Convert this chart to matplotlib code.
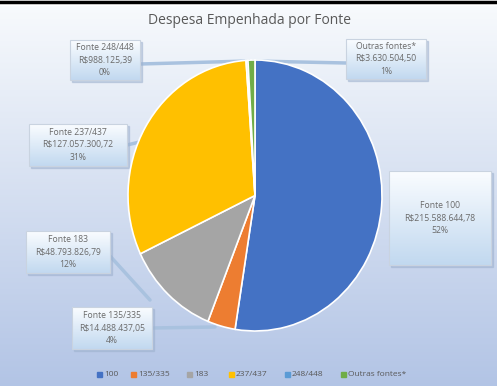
import numpy as np
import matplotlib.pyplot as plt
from matplotlib.patches import Rectangle

# dados
fontes = ['100', '135/335', '183', '237/437', '248/448', 'Outras fontes*']
rotulos = ['Fonte 100', 'Fonte 135/335', 'Fonte 183', 'Fonte 237/437',
           'Fonte 248/448', 'Outras fontes*']
valores = [215588644.78, 14488437.05, 48793826.79, 127057300.72,
           988125.39, 3630504.50]
percentuais = ['52%', '4%', '12%', '31%', '0%', '1%']
cores = ['#4472C4', '#ED7D31', '#A5A5A5', '#FFC000', '#5B9BD5', '#70AD47']


def brl(v):
    s = f'{v:,.2f}'
    return 'R$' + s.replace(',', '#').replace('.', ',').replace('#', '.')


W, H = 497, 386
fig = plt.figure(figsize=(W / 100, H / 100), dpi=100)
plt.rcParams['font.family'] = ['Open Sans', 'DejaVu Sans']

# fundo em pixels
bg = fig.add_axes([0, 0, 1, 1])
bg.set_xlim(0, W)
bg.set_ylim(H, 0)
bg.axis('off')
grad = np.linspace(0, 1, 256)[:, None]
c0 = np.array([0.97, 0.98, 0.99])
c1 = np.array([0.70, 0.77, 0.90])
img = c0 + (c1 - c0) * grad[..., None]
bg.imshow(img, extent=[0, W, H, 5], aspect='auto', zorder=0)
bg.add_patch(Rectangle((0, 0), W, 5, color='white', zorder=1))
bg.plot([0, W], [1.5, 1.5], color='black', lw=2.5, zorder=2)

bg.text(250, 20, 'Despesa Empenhada por Fonte', ha='center', va='center',
        fontsize=10, color='#595959', zorder=3)

# pizza
cx0, cy0, cx1, cy1 = 128, 60, 382, 331
ax = fig.add_axes([cx0 / W, 1 - cy1 / H, (cx1 - cx0) / W, (cy1 - cy0) / H])
ax.pie(valores, colors=cores, startangle=90, counterclock=False,
       wedgeprops=dict(edgecolor='white', linewidth=1.2))
ax.set_aspect('auto')
ax.set_xlim(-1, 1)
ax.set_ylim(-1, 1)
ax.axis('off')

# caixas: centro x, centro y, largura, altura, ponto de ligacao na pizza
caixas = [
    (440, 218, 102, 94, None),
    (112, 328, 80, 42, (215, 327)),
    (68, 252, 84, 42, (150, 300)),
    (78, 145, 98, 42, (148, 140)),
    (105, 60, 70, 40, (249, 61)),
    (386, 59, 80, 40, (253, 61)),
]

box_grad = np.linspace(0, 1, 64)[:, None]
b0 = np.array([0.98, 0.99, 1.0])
b1 = np.array([0.76, 0.85, 0.94])
box_img = b0 + (b1 - b0) * box_grad[..., None]

for rot, v, p, (bx, by, bw, bh, alvo) in zip(rotulos, valores, percentuais,
                                             caixas):
    x0, y0 = bx - bw / 2, by - bh / 2
    if alvo is not None:
        ex = x0 + bw if alvo[0] > bx else x0
        bg.plot([ex, alvo[0]], [by + (4 if alvo[1] > by else 0), alvo[1]],
                color='#a9c2df', lw=2.5, zorder=3, solid_capstyle='round')
    bg.add_patch(Rectangle((x0 + 2, y0 + 2), bw, bh, color='#9fb2cf',
                           alpha=0.5, zorder=4))
    bg.imshow(box_img, extent=[x0, x0 + bw, y0 + bh, y0], aspect='auto',
              zorder=5)
    bg.add_patch(Rectangle((x0, y0), bw, bh, fill=False, ec='#c9d3e0',
                           lw=0.8, zorder=6))
    txt = f'{rot}\n{brl(v)}\n{p}'
    bg.text(bx, by, txt, ha='center', va='center', fontsize=6.2,
            color='#6a6a6a', linespacing=1.45, zorder=7)

bg.set_xlim(0, W)
bg.set_ylim(H, 0)

# legenda
leg_x = [97, 131, 187, 229, 285, 341]
for x, f, c in zip(leg_x, fontes, cores):
    bg.add_patch(Rectangle((x, 372), 5, 5, color=c, zorder=3))
    bg.text(x + 7, 374.5, f, ha='left', va='center', fontsize=6,
            color='#595959', zorder=3)

fig.savefig('out.png', dpi=100)
